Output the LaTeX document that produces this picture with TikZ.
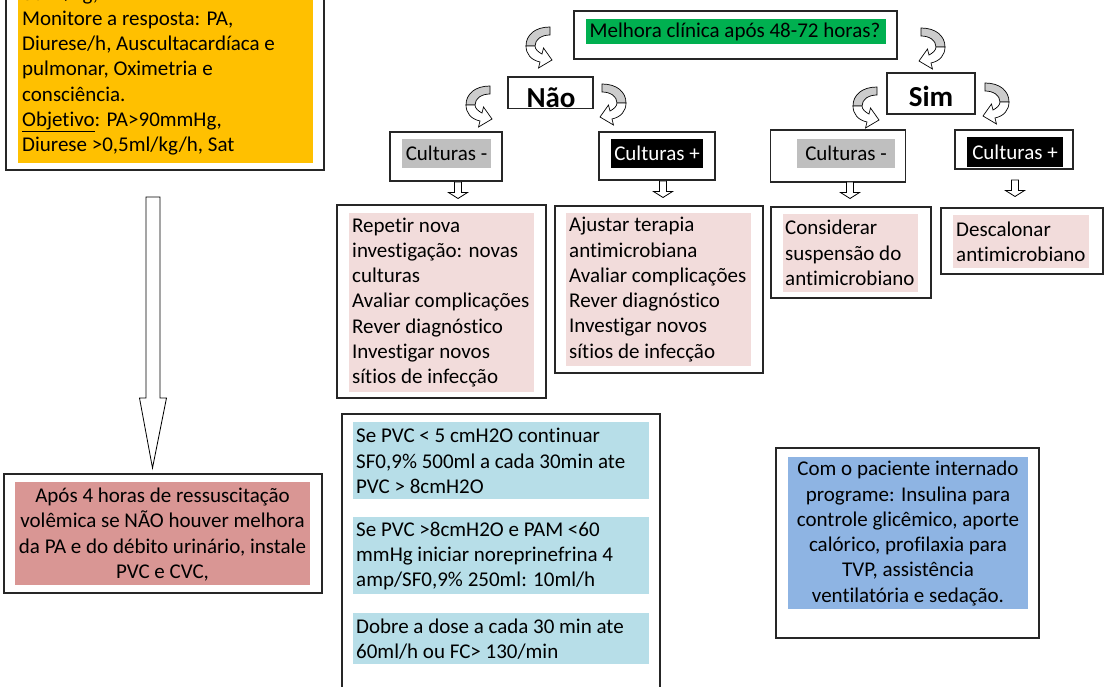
\documentclass[tikz,border=0pt]{standalone}
\usepackage{fontspec}
\setmainfont[Ligatures=NoCommon]{Carlito}
\definecolor{orng}{HTML}{FFC000}
\definecolor{grn}{HTML}{00B050}
\definecolor{pnk}{HTML}{F2DCDB}
\definecolor{rosered}{HTML}{D99694}
\definecolor{lblue}{HTML}{B7DEE8}
\definecolor{mblue}{HTML}{8EB4E3}
\definecolor{cgray}{HTML}{BFBFBF}
\definecolor{bord}{HTML}{262626}
\begin{document}
\begin{tikzpicture}[x=1pt,y=-1pt,
  box/.style={draw=bord, line width=1.5pt, fill=white, inner sep=0pt},
  bg/.style={draw=none, inner sep=0pt},
  txt/.style={font=\fontsize{21}{25.3}\selectfont, inner sep=0pt, align=left},
  ctxt/.style={font=\fontsize{21}{25.3}\selectfont, inner sep=0pt, align=center},
  big/.style={font=\fontsize{29}{32}\selectfont\bfseries, inner sep=0pt},
  pics/carrow/.style={code={
    \filldraw[fill=gray!40, draw=black, line width=0.7pt]
      (0,0) .. controls (-15,0) and (-24,8) .. (-24,19) -- (-15,19)
      .. controls (-15,12) and (-8,8) .. (0,8) -- cycle;
    \filldraw[fill=white, draw=black, line width=0.7pt]
      (-24,19) .. controls (-24,27) and (-19,33) .. (-10,35) -- (-11.5,41)
      -- (2,33) -- (-6.5,21) -- (-8,27)
      .. controls (-12,25) and (-15,22) .. (-15,19) -- cycle;
  }},
  pics/harrow/.style={code={
    \filldraw[fill=white, draw=black, line width=0.8pt]
      (-3.5,0) -- (3.5,0) -- (3.5,10.5) -- (9.5,10.5) -- (0,16.5)
      -- (-9.5,10.5) -- (-3.5,10.5) -- cycle;
  }}]
\useasboundingbox (0,0) rectangle (1104,687);

% ---- top-left box
\node[box, minimum width=318pt, minimum height=200pt] (tl) at (165,70) {};
\node[bg, fill=orng, minimum width=295pt, minimum height=193pt] (tlf) at (165.5,66.5) {};
\node[txt, anchor=west] (tlt) at (22,70.5) {30ml/kg,\\Monitore a resposta: PA,\\Diurese/h, Auscultacardíaca e\\pulmonar, Oximetria e\\consciência.\\\underline{Objetivo}: PA>90mmHg,\\Diurese >0,5ml/kg/h, Sat};

% ---- big arrow
\coordinate (ba) at (153,197);
\draw[line width=0.8pt, fill=white] (146,197) -- (160,197) -- (160,398) -- (166.5,398)
  -- (152.5,468) -- (139.5,398) -- (146,398) -- cycle;

% ---- bottom-left box
\node[box, minimum width=318pt, minimum height=119pt] (bl) at (163,533.5) {};
\node[bg, fill=rosered, minimum width=295pt, minimum height=103pt] (blf) at (162.5,533.5) {};
\node[ctxt] (blt) at (162.5,534.5) {Após 4 horas de ressuscitação\\volêmica se NÃO houver melhora\\da PA e do débito urinário, instale\\PVC e CVC,};

% ---- question
\node[box, minimum width=323pt, minimum height=48pt] (q) at (735.5,35) {};
\node[bg, fill=grn, minimum width=300pt, minimum height=25pt] (qf) at (736,31.5) {};
\node[txt] (qt) at (735,32) {Melhora clínica após 48-72 horas?};

% ---- Nao / Sim
\node[box, minimum width=85pt, minimum height=31.5pt] (nao) at (550.5,92.75) {};
\node[big, anchor=base] (naot) at (551,108) {Não};
\node[box, minimum width=88pt, minimum height=41pt] (sim) at (931,93.5) {};
\node[big, anchor=base] (simt) at (931,106.5) {Sim};

% ---- curved arrows
\pic at (550,27) {carrow};
\pic[xscale=-1] at (921,28) {carrow};
\pic at (490,86) {carrow};
\pic[xscale=-1] at (602,84) {carrow};
\pic at (877,87) {carrow};
\pic[xscale=-1] at (985,83) {carrow};

% ---- culturas
\node[box, minimum width=112pt, minimum height=49pt] (c1) at (446,156.5) {};
\node[bg, fill=cgray, minimum width=89pt, minimum height=29pt, font=\fontsize{21}{25.3}\selectfont] (c1t) at (446.5,153.5) {Culturas -};
\node[box, minimum width=116pt, minimum height=48pt] (c2) at (657,156) {};
\node[bg, fill=black, text=white, minimum width=92pt, minimum height=29pt, font=\fontsize{21}{25.3}\selectfont] (c2t) at (657,153.5) {Culturas +};
\node[box, minimum width=135pt, minimum height=52pt] (c3) at (838,156) {};
\node[bg, fill=cgray, minimum width=98pt, minimum height=29pt, font=\fontsize{21}{25.3}\selectfont] (c3t) at (846,153.5) {Culturas -};
\node[box, minimum width=118pt, minimum height=39pt] (c4) at (1014,149.5) {};
\node[bg, fill=black, text=white, minimum width=96pt, minimum height=30pt, font=\fontsize{21}{25.3}\selectfont] (c4t) at (1015,152) {Culturas +};

% ---- small arrows
\pic at (458,182) {harrow};
\pic at (663,181) {harrow};
\pic at (850,182) {harrow};
\pic at (1015,180) {harrow};

% ---- result boxes
\node[box, minimum width=209pt, minimum height=193pt] (r1) at (441.5,301.5) {};
\node[bg, fill=pnk, minimum width=185pt, minimum height=179pt] (r1f) at (441.5,302.5) {};
\node[txt, anchor=west] (r1t) at (352,302.5) {Repetir nova\\investigação: novas\\culturas\\Avaliar complicações\\Rever diagnóstico\\Investigar novos\\sítios de infecção};

\node[box, minimum width=208pt, minimum height=167pt] (r2) at (659,289.5) {};
\node[bg, fill=pnk, minimum width=185pt, minimum height=153pt] (r2f) at (658.5,289.5) {};
\node[txt, anchor=west] (r2t) at (569,289.5) {Ajustar terapia\\antimicrobiana\\Avaliar complicações\\Rever diagnóstico\\Investigar novos\\sítios de infecção};

\node[box, minimum width=160pt, minimum height=91pt] (r3) at (851,252.5) {};
\node[bg, fill=pnk, minimum width=135pt, minimum height=78pt] (r3f) at (850.5,253) {};
\node[txt, anchor=west] (r3t) at (785,253) {Considerar\\suspensão do\\antimicrobiano};

\node[box, minimum width=162pt, minimum height=66pt] (r4) at (1022,241) {};
\node[bg, fill=pnk, minimum width=136pt, minimum height=53pt] (r4f) at (1021,241.5) {};
\node[txt, anchor=west] (r4t) at (956,242) {Descalonar\\antimicrobiano};

% ---- PVC box
\node[box, minimum width=318pt, minimum height=286pt] (pvc) at (501,557) {};
\node[bg, fill=lblue, minimum width=296pt, minimum height=77pt] (b1) at (501,460.5) {};
\node[txt, anchor=west] (b1t) at (356,461) {Se PVC < 5 cmH2O continuar\\SF0,9\% 500ml a cada 30min ate\\PVC > 8cmH2O};
\node[bg, fill=lblue, minimum width=296pt, minimum height=77pt] (b2) at (501,555.5) {};
\node[txt, anchor=west] (b2t) at (356,556) {Se PVC >8cmH2O e PAM <60\\mmHg iniciar noreprinefrina 4\\amp/SF0,9\% 250ml: 10ml/h};
\node[bg, fill=lblue, minimum width=296pt, minimum height=51pt] (b3) at (501,638.5) {};
\node[txt, anchor=west] (b3t) at (356,639.5) {Dobre a dose a cada 30 min ate\\60ml/h ou FC> 130/min};

% ---- right bottom box
\node[box, minimum width=263pt, minimum height=190pt] (rb) at (907.5,543) {};
\node[bg, fill=mblue, minimum width=240pt, minimum height=152pt] (rbf) at (908,533) {};
\node[ctxt] (rbt) at (908,533.5) {Com o paciente internado\\programe: Insulina para\\controle glicêmico, aporte\\calórico, profilaxia para\\TVP, assistência\\ventilatória e sedação.};
\end{tikzpicture}
\end{document}
